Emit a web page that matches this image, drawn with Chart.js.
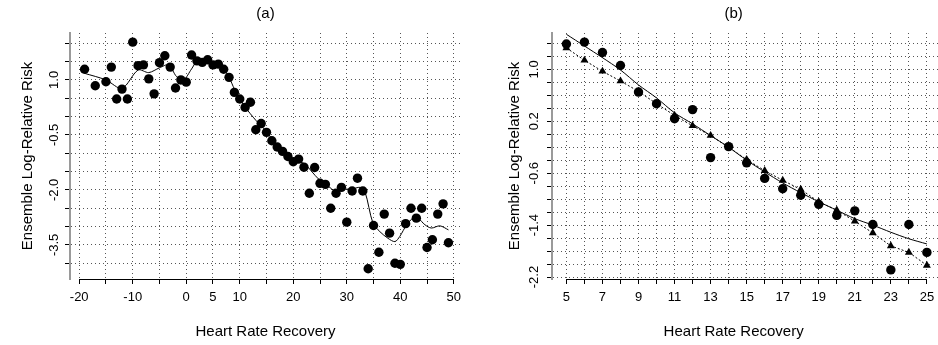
<!DOCTYPE html>
<html>
<head>
<meta charset="utf-8">
<title>Heart Rate Recovery</title>
<script src="https://cdn.jsdelivr.net/npm/chart.js@4.4.1/dist/chart.umd.min.js"></script>
<style>
  html, body { margin: 0; padding: 0; background: #fff; overflow: hidden; width: 938px; height: 345px; }
  #wrapA { position: absolute; left: 0; top: 0; }
  #wrapB { position: absolute; left: 469px; top: 0; }
</style>
</head>
<body>
<div id="wrapA"><canvas id="chartA" width="469" height="345"></canvas></div>
<div id="wrapB"><canvas id="chartB" width="477" height="345"></canvas></div>
<script>
// panel (a): observed points and smoothed curve
var hrrA = [-19, -17, -15, -14, -13, -12, -11, -10, -9, -8, -7, -6, -5, -4, -3, -2, -1, 0,
  1, 2, 3, 4, 5, 6, 7, 8, 9, 10, 11, 12, 13, 14, 15, 16, 17, 18, 19, 20, 21, 22, 23, 24,
  25, 26, 27, 28, 29, 30, 31, 32, 33, 34, 35, 36, 37, 38, 39, 40, 41, 42, 43, 44, 45, 46,
  47, 48, 49];
var riskA = [1.29, 0.84, 0.95, 1.35, 0.48, 0.75, 0.48, 2.03, 1.39, 1.41, 1.03, 0.62, 1.47,
  1.66, 1.35, 0.78, 1.0, 0.94, 1.68, 1.52, 1.48, 1.55, 1.41, 1.43, 1.29, 1.07, 0.66, 0.48,
  0.25, 0.39, -0.36, -0.19, -0.43, -0.66, -0.83, -0.95, -1.09, -1.23, -1.16, -1.38, -2.09,
  -1.39, -1.82, -1.85, -2.5, -2.09, -1.93, -2.88, -2.03, -1.68, -2.03, -4.15, -2.97, -3.7,
  -2.66, -3.18, -4.0, -4.03, -2.92, -2.5, -2.77, -2.5, -3.57, -3.36, -2.66, -2.38, -3.44];
var smoothXA = [-19, -15, -12, -9, -7, -5, -3.3, -1.8, -0.5, 1, 2, 4, 5, 6, 7, 8, 9, 10, 11,
  13, 15, 17, 19, 21, 22.2, 24.7, 26.2, 28.1, 29.3, 30.9, 32.5, 33.4, 34.9, 36.2, 37.7, 39,
  39.9, 41.2, 42.4, 43.3, 44.6, 45.8, 47.4, 49];
var smoothYA = [1.18, 1.0, 0.77, 1.27, 1.2, 1.33, 1.41, 1.09, 1.0, 1.3, 1.5, 1.55, 1.45, 1.4,
  1.27, 1.07, 0.75, 0.48, 0.26, -0.1, -0.41, -0.8, -1.07, -1.22, -1.3, -1.7, -1.86, -2.05,
  -1.98, -1.98, -1.93, -2.05, -2.91, -3.14, -3.32, -3.41, -3.27, -2.95, -2.77, -2.77, -2.95,
  -3.04, -2.98, -3.09];
var xTicksA = [-20, -15, -10, -5, 0, 5, 10, 15, 20, 25, 30, 35, 40, 45, 50];
var xLabelsA = [-20, -10, 0, 5, 10, 20, 30, 40, 50];
var yTicksA = [-4, -3.5, -3, -2.5, -2, -1.5, -1, -0.5, 0, 0.5, 1, 1.5, 2];
var yLabelsA = [1.0, -0.5, -2.0, -3.5];

// panel (b): HRR 5..25, observed, ensemble and fitted curve
var hrrB = [5, 6, 7, 8, 9, 10, 11, 12, 13, 14, 15, 16, 17, 18, 19, 20, 21, 22, 23, 24, 25];
var circleB = [1.39, 1.42, 1.26, 1.06, 0.65, 0.47, 0.24, 0.38, -0.36, -0.19, -0.44, -0.68,
  -0.84, -0.94, -1.08, -1.25, -1.18, -1.39, -2.09, -1.39, -1.82];
var triangleB = [1.33, 1.14, 0.97, 0.82, 0.66, 0.47, 0.29, 0.13, -0.02, -0.2, -0.39, -0.56,
  -0.71, -0.85, -1.04, -1.17, -1.34, -1.52, -1.72, -1.82, -2.02];
var fitB = [1.54, 1.36, 1.18, 0.99, 0.76, 0.56, 0.33, 0.16, -0.02, -0.2, -0.4, -0.58, -0.75,
  -0.9, -1.04, -1.17, -1.3, -1.4, -1.51, -1.61, -1.69];
var xTicksB = [5, 6, 7, 8, 9, 10, 11, 12, 13, 14, 15, 16, 17, 18, 19, 20, 21, 22, 23, 24, 25];
var xLabelsB = [5, 7, 9, 11, 13, 15, 17, 19, 21, 23, 25];
var yTicksB = [-2.2, -2.0, -1.8, -1.6, -1.4, -1.2, -1.0, -0.8, -0.6, -0.4, -0.2, 0, 0.2, 0.4,
  0.6, 0.8, 1.0, 1.2, 1.4];
var yLabelsB = [1.0, 0.2, -0.6, -1.4, -2.2];

var FONT = "'Liberation Sans', Arial, sans-serif";
var GRID = '#555';
var X_TITLE = 'Heart Rate Recovery';
var Y_TITLE = 'Ensemble Log-Relative Risk';

function pairs(xs, ys){
  return xs.map(function(x, i){ return {x: x, y: ys[i]}; });
}

function hasLabel(list, v){
  return list.some(function(l){ return Math.abs(l - v) < 1e-6; });
}

// R draws the x axis line only from first to last tick
var xAxisLine = {
  id: 'xAxisLine',
  afterDraw: function(chart){
    var sx = chart.scales.x;
    var t = sx.ticks;
    var ctx = chart.ctx;
    ctx.save();
    ctx.strokeStyle = '#000';
    ctx.lineWidth = 1;
    ctx.beginPath();
    ctx.moveTo(sx.getPixelForValue(t[0].value), sx.top + 0.5);
    ctx.lineTo(sx.getPixelForValue(t[t.length - 1].value), sx.top + 0.5);
    ctx.stroke();
    ctx.restore();
  }
};

// panel letter and x title, centred on the panel (b is cropped on the right)
var panelText = {
  id: 'panelText',
  afterDraw: function(chart, args, opts){
    var ctx = chart.ctx;
    var cx = (chart.chartArea.left + chart.chartArea.right) / 2 + opts.shift;
    ctx.save();
    ctx.fillStyle = '#000';
    ctx.font = '15px ' + FONT;
    ctx.textAlign = 'center';
    ctx.textBaseline = 'middle';
    ctx.fillText(opts.title, cx, 14);
    ctx.fillText(X_TITLE, cx, 332);
    ctx.restore();
  }
};

function makePanel(id, cfg){
  return new Chart(id, {
    type: 'scatter',
    data: { datasets: cfg.datasets },
    plugins: [xAxisLine, panelText],
    options: {
      responsive: false,
      animation: false,
      devicePixelRatio: 1,
      layout: { padding: { left: 0, right: cfg.padRight, top: 33, bottom: 0 } },
      plugins: {
        legend: { display: false },
        tooltip: { enabled: false },
        title: { display: false },
        panelText: { title: cfg.title, shift: cfg.shift }
      },
      scales: {
        x: {
          type: 'linear', min: cfg.xMin, max: cfg.xMax,
          afterBuildTicks: function(s){ s.ticks = cfg.xTicks.map(function(v){ return {value: v}; }); },
          afterFit: function(s){ s.height = 66; },
          grid: { color: GRID, lineWidth: 1, tickLength: 5, tickColor: '#000', tickWidth: 1, tickBorderDash: [] },
          border: { display: false, dash: [1, 3] },
          ticks: {
            color: '#000', font: { family: FONT, size: 13 }, padding: 6,
            autoSkip: false, maxRotation: 0,
            callback: function(v){ return hasLabel(cfg.xLabels, v) ? String(v) : ''; }
          }
        },
        y: {
          type: 'linear', min: cfg.yMin, max: cfg.yMax,
          afterBuildTicks: function(s){ s.ticks = cfg.yTicks.map(function(v){ return {value: v}; }); },
          afterFit: function(s){ s.width = cfg.yWidth; },
          grid: { color: GRID, lineWidth: 1, tickLength: 5, tickColor: '#000', tickWidth: 1, tickBorderDash: [] },
          border: { display: true, color: '#9a9a9a', width: 2, dash: [1, 3] },
          ticks: {
            color: '#000', font: { family: FONT, size: 13 }, padding: cfg.yPad,
            autoSkip: false, minRotation: 90, maxRotation: 90, crossAlign: 'center',
            callback: function(v){ return hasLabel(cfg.yLabels, v) ? v.toFixed(1) : ''; }
          },
          title: {
            display: true, text: Y_TITLE, color: '#000',
            font: { family: FONT, size: 15 }, padding: { top: cfg.yTitlePad, bottom: 0 }
          }
        }
      }
    }
  });
}

makePanel('chartA', {
  title: '(a)', shift: -1, padRight: 6, yWidth: 70, yPad: -1, yTitlePad: 19,
  xMin: -21.72, xMax: 51.72, yMin: -4.43, yMax: 2.28,
  xTicks: xTicksA, xLabels: xLabelsA, yTicks: yTicksA, yLabels: yLabelsA,
  datasets: [
    { data: pairs(smoothXA, smoothYA), showLine: true, borderColor: '#000', borderWidth: 1,
      pointRadius: 0, tension: 0.3, fill: false },
    { data: pairs(hrrA, riskA), pointStyle: 'circle', pointRadius: 4.7,
      backgroundColor: '#000', borderColor: '#000', borderWidth: 0 }
  ]
});

makePanel('chartB', {
  title: '(b)', shift: -13, padRight: 0, yWidth: 83, yPad: 1, yTitlePad: 37,
  xMin: 4.2, xMax: 25.8, yMin: -2.23, yMax: 1.56,
  xTicks: xTicksB, xLabels: xLabelsB, yTicks: yTicksB, yLabels: yLabelsB,
  datasets: [
    { data: pairs(hrrB, fitB), showLine: true, borderColor: '#000', borderWidth: 1,
      pointRadius: 0, tension: 0.3, fill: false },
    { data: pairs(hrrB, triangleB), showLine: true, borderColor: '#000', borderWidth: 1,
      borderDash: [2, 2], pointStyle: 'triangle', pointRadius: 4.6,
      backgroundColor: '#000', pointBorderWidth: 0, fill: false },
    { data: pairs(hrrB, circleB), pointStyle: 'circle', pointRadius: 4.7,
      backgroundColor: '#000', borderColor: '#000', borderWidth: 0 }
  ]
});
</script>
</body>
</html>
